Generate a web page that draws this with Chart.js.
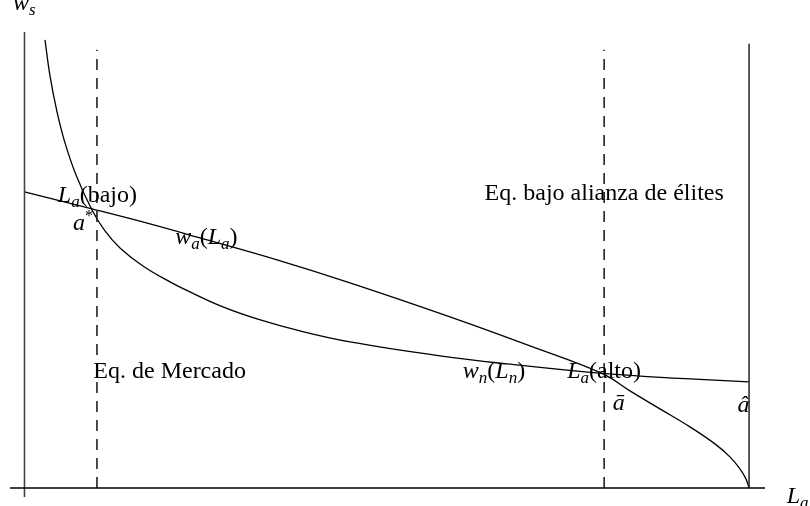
<!DOCTYPE html>
<html lang="es">
<head>
<meta charset="UTF-8">
<title>Equilibrio de Mercado vs alianza de élites</title>
<script src="https://cdn.jsdelivr.net/npm/chart.js"></script>
<style>
    * { margin: 0; padding: 0; box-sizing: border-box; }
    body { background: #fff; }
    .wrap { width: 810px; height: 506px; position: relative; }
</style>
</head>
<body>
<div class="wrap"><canvas id="chart"></canvas></div>
<script>
// curve w_n(L_n): convex, falls steeply then flattens
const wnX = [2.83, 3.52, 4.49, 5.59, 7.11, 9.32, 11.11, 13.18, 16.35, 20.08, 22.84, 27.39, 32.09, 38.02, 44.92, 57.34, 66.59, 79.7, 91.84, 100];
const wnY = [98.25, 90.35, 82.46, 75.66, 68.64, 60.96, 56.36, 52.63, 48.68, 45.18, 42.98, 39.69, 37.06, 34.43, 32.02, 28.95, 27.19, 25.11, 23.9, 23.25];

// curve w_a(L_a): concave, ends at zero on the right wall
const waX = [0, 9.32, 17.32, 24.22, 34.85, 44.92, 58.72, 69.76, 79.7, 83.56, 87.7, 91.84, 95.29, 97.36, 98.74, 99.57, 100];
const waY = [64.91, 61.18, 57.89, 54.82, 50.0, 44.96, 37.5, 31.14, 25.11, 21.27, 17.32, 13.38, 9.65, 6.8, 4.17, 1.97, 0];

// equilibrium positions on the L_a axis
const aStar = 10;
const aBar = 80;
const aHat = 100;

function pts(xs, ys) {
    return xs.map((x, i) => ({ x: x, y: ys[i] }));
}

const black = '#000';
const dash = [11, 8];

// text labels: [x, y, parts]  parts: [text, style]
// style: r = roman, i = italic, si = subscript italic, sup = superscript
const labels = [
    [-1.6, 104.8, [['w', 'i'], ['s', 'si']]],
    [105.2, -3.3, [['L', 'i'], ['a', 'si']]],
    [4.6, 62.7, [['L', 'i'], ['a', 'si'], ['(bajo)', 'r']]],
    [6.7, 56.6, [['a', 'i'], ['*', 'sup']]],
    [20.8, 53.5, [['w', 'i'], ['a', 'si'], ['(', 'r'], ['L', 'i'], ['a', 'si'], [')', 'r']]],
    [9.5, 24.1, [['Eq. de Mercado', 'r']]],
    [63.5, 63.2, [['Eq. bajo alianza de élites', 'r']]],
    [60.5, 24.1, [['w', 'i'], ['n', 'si'], ['(', 'r'], ['L', 'i'], ['n', 'si'], [')', 'r']]],
    [74.9, 24.1, [['L', 'i'], ['a', 'si'], ['(alto)', 'r']]],
    [81.2, 17.1, [['ā', 'i']]],
    [98.4, 16.7, [['â', 'i']]]
];

const textPlugin = {
    id: 'texts',
    afterDatasetsDraw(chart) {
        const ctx = chart.ctx;
        const sx = chart.scales.x, sy = chart.scales.y;
        ctx.save();
        ctx.fillStyle = black;
        ctx.textBaseline = 'alphabetic';
        labels.forEach(([x, y, parts]) => {
            let px = sx.getPixelForValue(x);
            const py = sy.getPixelForValue(y);
            parts.forEach(([t, s]) => {
                let size = 24, dy = 0, it = false;
                if (s === 'i') it = true;
                if (s === 'si') { it = true; size = 17; dy = 5; }
                if (s === 'sup') { size = 16; dy = -9; }
                ctx.font = (it ? 'italic ' : '') + size + 'px "Liberation Serif", "DejaVu Serif", serif';
                ctx.fillText(t, px, py + dy);
                px += ctx.measureText(t).width;
            });
        });
        ctx.restore();
    }
};

new Chart(document.getElementById('chart'), {
    type: 'scatter',
    data: {
        datasets: [
            { data: pts([-2, 102.2], [0, 0]), borderColor: black, borderWidth: 1.5 },
            { data: pts([0, 0], [-2, 100]), borderColor: '#444', borderWidth: 1.6 },
            { data: pts([aHat, aHat], [0, 97.4]), borderColor: '#333', borderWidth: 1.6 },
            { data: pts([aStar, aStar], [0, 96.1]), borderColor: '#222', borderWidth: 1.6, borderDash: dash },
            { data: pts([aBar, aBar], [0, 96.1]), borderColor: '#222', borderWidth: 1.6, borderDash: dash },
            { data: pts(wnX, wnY), borderColor: black, borderWidth: 1.3, tension: 0.4 },
            { data: pts(waX, waY), borderColor: black, borderWidth: 1.3, tension: 0.4 }
        ].map(d => Object.assign({ showLine: true, pointRadius: 0, fill: false }, d))
    },
    options: {
        responsive: true,
        maintainAspectRatio: false,
        animation: false,
        layout: { padding: { left: 10, right: 45, top: 0, bottom: 9 } },
        plugins: { legend: { display: false }, tooltip: { enabled: false } },
        scales: {
            x: { type: 'linear', min: -2, max: 102.2, display: false },
            y: { type: 'linear', min: -2, max: 107, display: false }
        }
    },
    plugins: [textPlugin]
});
</script>
</body>
</html>
